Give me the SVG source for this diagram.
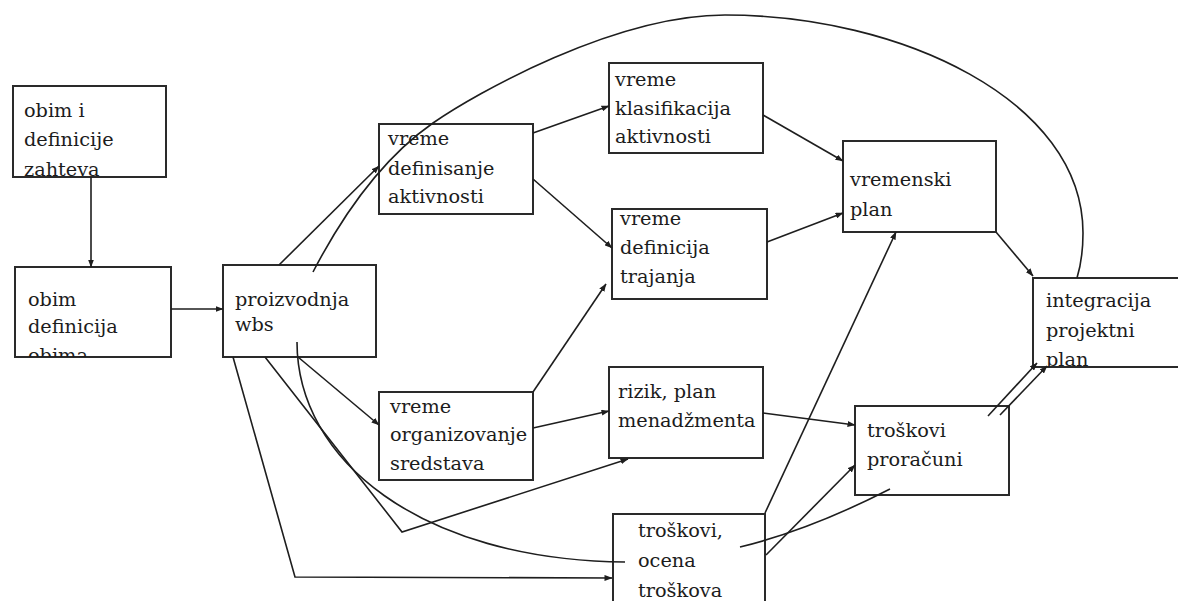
<svg xmlns="http://www.w3.org/2000/svg" width="1178" height="601" viewBox="0 0 1178 601">
  <style>
    .box { fill: #ffffff; stroke: #2a2a2a; stroke-width: 2; }
    .lbl { font-family: "DejaVu Serif", "Liberation Serif", serif; font-size: 19.3px; fill: #1c1c1c; }
    .con { fill: none; stroke: #1e1e1e; stroke-width: 1.6; }
    .arr { marker-end: url(#head); }
  </style>
  <defs>
    <marker id="head" viewBox="0 0 8 6" refX="7.5" refY="3" markerWidth="8" markerHeight="6" markerUnits="userSpaceOnUse" orient="auto">
      <path d="M0,0 L8,3 L0,6 z" fill="#1e1e1e"/>
    </marker>
    <clipPath id="clip-obim"><rect x="15" y="267" width="156" height="90"/></clipPath>
    <clipPath id="clip-integracija"><rect x="1033" y="278" width="150" height="89"/></clipPath>
  </defs>

  <rect width="1178" height="601" fill="#ffffff"/>

  <!-- nodes -->
  <g id="obim-zahteva">
    <rect class="box" x="13" y="86" width="153" height="91"/>
    <text class="lbl" x="24" y="117">obim i</text>
    <text class="lbl" x="24" y="146">definicije</text>
    <text class="lbl" x="24" y="176">zahteva</text>
  </g>
  <g id="obim-definicija">
    <rect class="box" x="15" y="267" width="156" height="90"/>
    <g clip-path="url(#clip-obim)">
      <text class="lbl" x="28" y="306">obim</text>
      <text class="lbl" x="28" y="333">definicija</text>
      <text class="lbl" x="28" y="362">obima</text>
    </g>
  </g>
  <g id="proizvodnja-wbs">
    <rect class="box" x="223" y="265" width="153" height="92"/>
    <text class="lbl" x="235" y="306">proizvodnja</text>
    <text class="lbl" x="235" y="331">wbs</text>
  </g>
  <g id="definisanje-aktivnosti">
    <rect class="box" x="379" y="124" width="154" height="90"/>
    <text class="lbl" x="388" y="145">vreme</text>
    <text class="lbl" x="388" y="175">definisanje</text>
    <text class="lbl" x="388" y="203">aktivnosti</text>
  </g>
  <g id="klasifikacija-aktivnosti">
    <rect class="box" x="609" y="63" width="154" height="90"/>
    <text class="lbl" x="615" y="86">vreme</text>
    <text class="lbl" x="615" y="115">klasifikacija</text>
    <text class="lbl" x="615" y="143">aktivnosti</text>
  </g>
  <g id="definicija-trajanja">
    <rect class="box" x="612" y="209" width="155" height="90"/>
    <text class="lbl" x="620" y="225">vreme</text>
    <text class="lbl" x="620" y="254">definicija</text>
    <text class="lbl" x="620" y="283">trajanja</text>
  </g>
  <g id="vremenski-plan">
    <rect class="box" x="843" y="141" width="153" height="91"/>
    <text class="lbl" x="850" y="186">vremenski</text>
    <text class="lbl" x="850" y="216">plan</text>
  </g>
  <g id="integracija">
    <rect class="box" x="1033" y="278" width="150" height="89"/>
    <g clip-path="url(#clip-integracija)">
      <text class="lbl" x="1046" y="307">integracija</text>
      <text class="lbl" x="1046" y="337">projektni</text>
      <text class="lbl" x="1046" y="366">plan</text>
    </g>
  </g>
  <g id="organizovanje-sredstava">
    <rect class="box" x="379" y="392" width="154" height="88"/>
    <text class="lbl" x="390" y="413">vreme</text>
    <text class="lbl" x="390" y="441">organizovanje</text>
    <text class="lbl" x="390" y="470">sredstava</text>
  </g>
  <g id="rizik-plan">
    <rect class="box" x="609" y="367" width="154" height="91"/>
    <text class="lbl" x="618" y="398">rizik, plan</text>
    <text class="lbl" x="618" y="427">menadžmenta</text>
  </g>
  <g id="troskovi-proracuni">
    <rect class="box" x="855" y="406" width="154" height="89"/>
    <text class="lbl" x="867" y="437">troškovi</text>
    <text class="lbl" x="867" y="466">proračuni</text>
  </g>
  <g id="ocena-troskova">
    <rect class="box" x="613" y="514" width="152" height="110"/>
    <text class="lbl" x="638" y="537">troškovi,</text>
    <text class="lbl" x="638" y="567">ocena</text>
    <text class="lbl" x="638" y="597">troškova</text>
  </g>

  <!-- connectors -->
  <g id="connectors">
    <path class="con arr" d="M91,177 L91,267"/>
    <path class="con arr" d="M171,309 L223,309"/>
    <path class="con arr" d="M279,265 L379,166"/>
    <path class="con" d="M313,272 C340,220 380,160 433,123 C476,93 615,15 725,15 C900,15 1083,100 1083,233 C1083,255 1080,268 1077,278"/>
    <path class="con arr" d="M533,133 L609,106"/>
    <path class="con arr" d="M533,179 L612,248"/>
    <path class="con arr" d="M763,115 L843,161"/>
    <path class="con arr" d="M767,242 L843,213"/>
    <path class="con arr" d="M996,232 L1033,276"/>
    <path class="con arr" d="M298,357 L379,425"/>
    <path class="con arr" d="M265,357 L402,532 L628,459"/>
    <path class="con" d="M297,342 C297,460 420,560 625,562"/>
    <path class="con arr" d="M233,357 L295,577 L612,578"/>
    <path class="con arr" d="M533,392 L606,284"/>
    <path class="con arr" d="M533,428 L609,411"/>
    <path class="con arr" d="M763,413 L855,425"/>
    <path class="con arr" d="M765,513 L896,232"/>
    <path class="con arr" d="M766,555 L855,465"/>
    <path class="con" d="M740,547 Q810,530 890,489"/>
    <path class="con arr" d="M988,416 L1037,363"/>
    <path class="con arr" d="M1000,415 L1047,366"/>
  </g>
</svg>
